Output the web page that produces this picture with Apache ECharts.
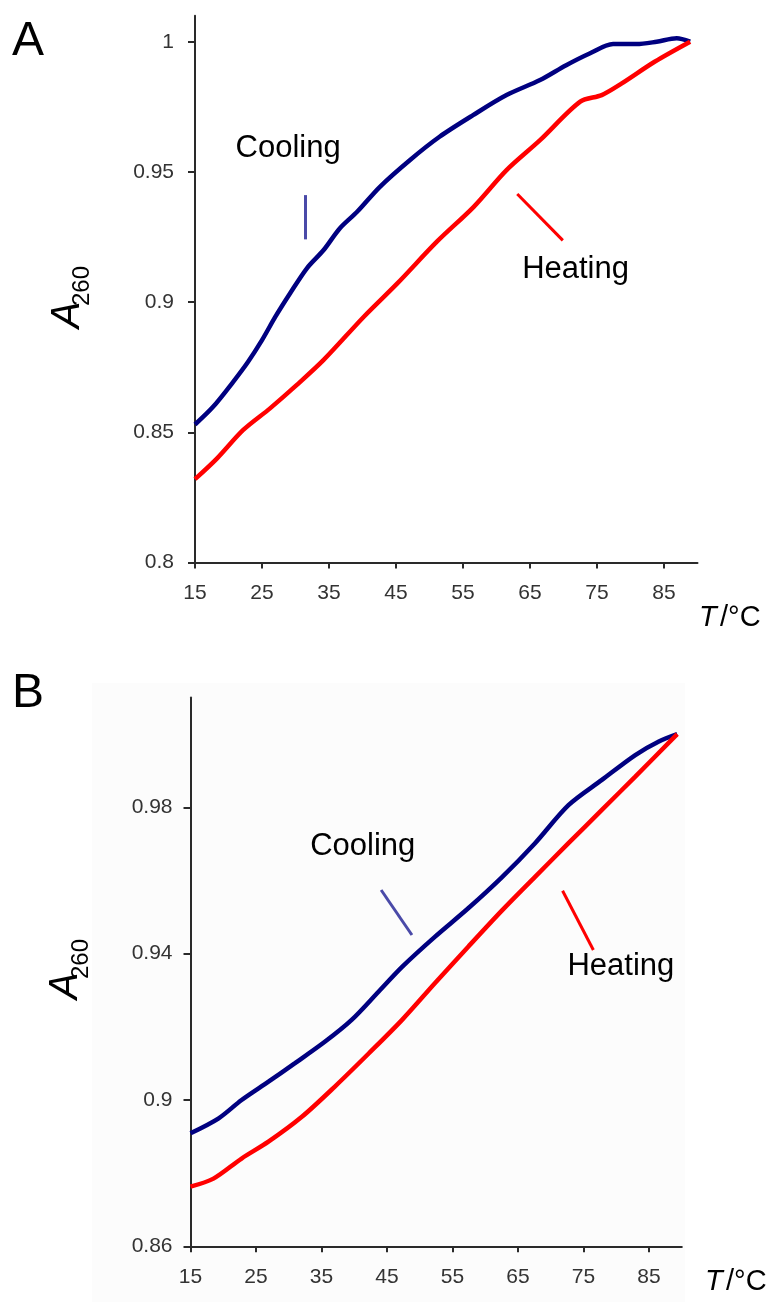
<!DOCTYPE html>
<html>
<head>
<meta charset="utf-8">
<script src="https://cdn.jsdelivr.net/npm/echarts@6/dist/echarts.min.js"></script>
<style>
  html, body { margin: 0; padding: 0; background: #ffffff; }
  #chart { width: 773px; height: 1302px; }
</style>
</head>
<body>
<div id="chart"></div>
<script>
// Tick values shared by both panels
const xTicks = [15, 25, 35, 45, 55, 65, 75, 85];
const yTicksA = [0.8, 0.85, 0.9, 0.95, 1];
const yTicksB = [0.86, 0.9, 0.94, 0.98];

// Panel A: melting curves (temperature in °C, absorbance at 260 nm)
const tempCoolA = [15, 17.7, 20.7, 22.9, 25.0, 27.0, 29.2, 31.7, 34.2, 36.6, 39.2, 42.6, 47.1, 51.5, 56.5, 61.5, 66.5, 70.4, 73.9, 77.4, 80.9, 83.9, 86.9, 88.9];
const absCoolA  = [0.853, 0.8598, 0.8694, 0.877, 0.8854, 0.8944, 0.9034, 0.913, 0.920, 0.9283, 0.9347, 0.9443, 0.9546, 0.9635, 0.9718, 0.9795, 0.9853, 0.991, 0.9955, 0.9991, 0.9991, 1.0, 1.0013, 1.0];
const tempHeatA = [15, 18.3, 22.2, 26.2, 30.2, 34.2, 40.2, 45.2, 51.1, 56.6, 61.5, 66.5, 72.5, 75.7, 78.7, 83.6, 88.9];
const absHeatA  = [0.832, 0.840, 0.8509, 0.8592, 0.8682, 0.8778, 0.8944, 0.9072, 0.9232, 0.9366, 0.9507, 0.9622, 0.977, 0.9795, 0.984, 0.9923, 1.0];

// Panel B
const tempCoolB = [15, 19.3, 22.8, 26.9, 30.9, 35.5, 39.6, 43.7, 47.3, 52.3, 57.4, 62.6, 67.6, 72.7, 77.8, 82.9, 86.5, 89.3];
const absCoolB  = [0.8909, 0.895, 0.900, 0.905, 0.910, 0.9159, 0.9219, 0.9296, 0.9364, 0.9446, 0.9524, 0.961, 0.9702, 0.9806, 0.9875, 0.9943, 0.998, 1.0];
const tempHeatB = [15, 18.5, 22.8, 26.9, 32.0, 37.0, 42.2, 47.3, 52.3, 57.4, 62.6, 67.6, 72.7, 77.8, 82.9, 89.3];
const absHeatB  = [0.8763, 0.8785, 0.884, 0.8886, 0.8954, 0.9036, 0.9127, 0.9219, 0.9319, 0.9419, 0.9519, 0.961, 0.9702, 0.9793, 0.9884, 1.0];

// Curve labels and their pointer strokes, in data coordinates
const labelsA = { cooling: [28.9, 0.9589], heating: [71.8, 0.9127] };
const pointersA = { cooling: [[31.5, 0.9411], [31.5, 0.9241]], heating: [[63.1, 0.9415], [69.9, 0.9237]] };
const labelsB = { cooling: [41.3, 0.9694], heating: [80.7, 0.9366] };
const pointersB = { cooling: [[44.1, 0.9574], [48.8, 0.9451]], heating: [[71.8, 0.9572], [76.5, 0.941]] };

const FONT = '"Liberation Sans", Arial, Helvetica, sans-serif';
const zip = (xs, ys) => xs.map((x, i) => [x, ys[i]]);

function xAxisFor(gridIndex) {
  return {
    type: 'value', gridIndex, min: 15, max: 90, interval: 10,
    splitLine: { show: false },
    axisLine: { show: true, onZero: false, lineStyle: { color: '#2a2a2a', width: 2 } },
    axisTick: { show: true, length: 6, inside: false, customValues: xTicks, lineStyle: { color: '#2a2a2a', width: 2 } },
    axisLabel: { customValues: xTicks, margin: 20, color: '#333', fontSize: 21, fontFamily: FONT }
  };
}
function yAxisFor(gridIndex, min, max, ticks, margin) {
  return {
    type: 'value', gridIndex, min, max,
    splitLine: { show: false },
    axisLine: { show: true, onZero: false, lineStyle: { color: '#2a2a2a', width: 2 } },
    axisTick: { show: true, length: 7, customValues: ticks, lineStyle: { color: '#2a2a2a', width: 2 } },
    axisLabel: { customValues: ticks, margin, color: '#333', fontSize: 21, fontFamily: FONT }
  };
}

function curve(name, xs, ys, color, gi, label, pointer, pointerColor) {
  return {
    name, type: 'line', xAxisIndex: gi, yAxisIndex: gi,
    data: zip(xs, ys), showSymbol: false, smooth: 0.3, animation: false,
    lineStyle: { color, width: 4.5 },
    markLine: {
      silent: true, symbol: ['none', 'none'], animation: false,
      label: { show: false },
      lineStyle: { color: pointerColor, width: 3, type: 'solid' },
      emphasis: { disabled: true },
      data: [[{ coord: pointer[0] }, { coord: pointer[1] }]]
    },
    markPoint: {
      silent: true, symbol: 'circle', symbolSize: 0, animation: false,
      label: { show: true, position: 'inside', formatter: name, color: '#000', fontSize: 31, fontFamily: FONT },
      data: [{ coord: label }]
    }
  };
}

const chart = echarts.init(document.getElementById('chart'), null, { renderer: 'canvas' });
chart.setOption({
  backgroundColor: '#ffffff',
  animation: false,
  grid: [
    { left: 195, top: 15.7, width: 502.5, height: 546.8 },
    { left: 190.5, top: 697.6, width: 491.3, height: 548.7 }
  ],
  xAxis: [xAxisFor(0), xAxisFor(1)],
  yAxis: [yAxisFor(0, 0.8, 1.01, yTicksA, 21), yAxisFor(1, 0.86, 1.01, yTicksB, 18)],
  graphic: [
    { type: 'rect', z: -10, shape: { x: 92, y: 683, width: 593, height: 619 }, style: { fill: '#fcfcfc' } },
    { type: 'text', left: 12, top: 18, style: { text: 'A', font: '48px ' + FONT, fill: '#000' } },
    { type: 'text', left: 12, top: 670, style: { text: 'B', font: '48px ' + FONT, fill: '#000' } },
    // y-axis titles: italic A with subscript 260, reading upward
    { type: 'text', x: 67.5, y: 315, rotation: Math.PI / 2, style: { text: 'A', font: 'italic 40px ' + FONT, fill: '#000', align: 'center', verticalAlign: 'middle' } },
    { type: 'text', x: 82.5, y: 286, rotation: Math.PI / 2, style: { text: '260', font: '24px ' + FONT, fill: '#000', align: 'center', verticalAlign: 'middle' } },
    { type: 'text', x: 66, y: 986, rotation: Math.PI / 2, style: { text: 'A', font: 'italic 40px ' + FONT, fill: '#000', align: 'center', verticalAlign: 'middle' } },
    { type: 'text', x: 81.5, y: 959, rotation: Math.PI / 2, style: { text: '260', font: '24px ' + FONT, fill: '#000', align: 'center', verticalAlign: 'middle' } },
    // x-axis titles
    { type: 'text', x: 699, y: 618, style: { text: '{t|T} {u|/°C}', verticalAlign: 'middle', rich: { t: { font: 'italic 29px ' + FONT, fill: '#000' }, u: { font: '29px ' + FONT, fill: '#000' } } } },
    { type: 'text', x: 705, y: 1282, style: { text: '{t|T} {u|/°C}', verticalAlign: 'middle', rich: { t: { font: 'italic 29px ' + FONT, fill: '#000' }, u: { font: '29px ' + FONT, fill: '#000' } } } }
  ],
  series: [
    curve('Cooling', tempCoolA, absCoolA, '#000080', 0, labelsA.cooling, pointersA.cooling, '#4a4aa8'),
    curve('Heating', tempHeatA, absHeatA, '#ff0000', 0, labelsA.heating, pointersA.heating, '#ff0000'),
    curve('Cooling', tempCoolB, absCoolB, '#000080', 1, labelsB.cooling, pointersB.cooling, '#4a4aa8'),
    curve('Heating', tempHeatB, absHeatB, '#ff0000', 1, labelsB.heating, pointersB.heating, '#ff0000')
  ]
});
</script>
</body>
</html>
